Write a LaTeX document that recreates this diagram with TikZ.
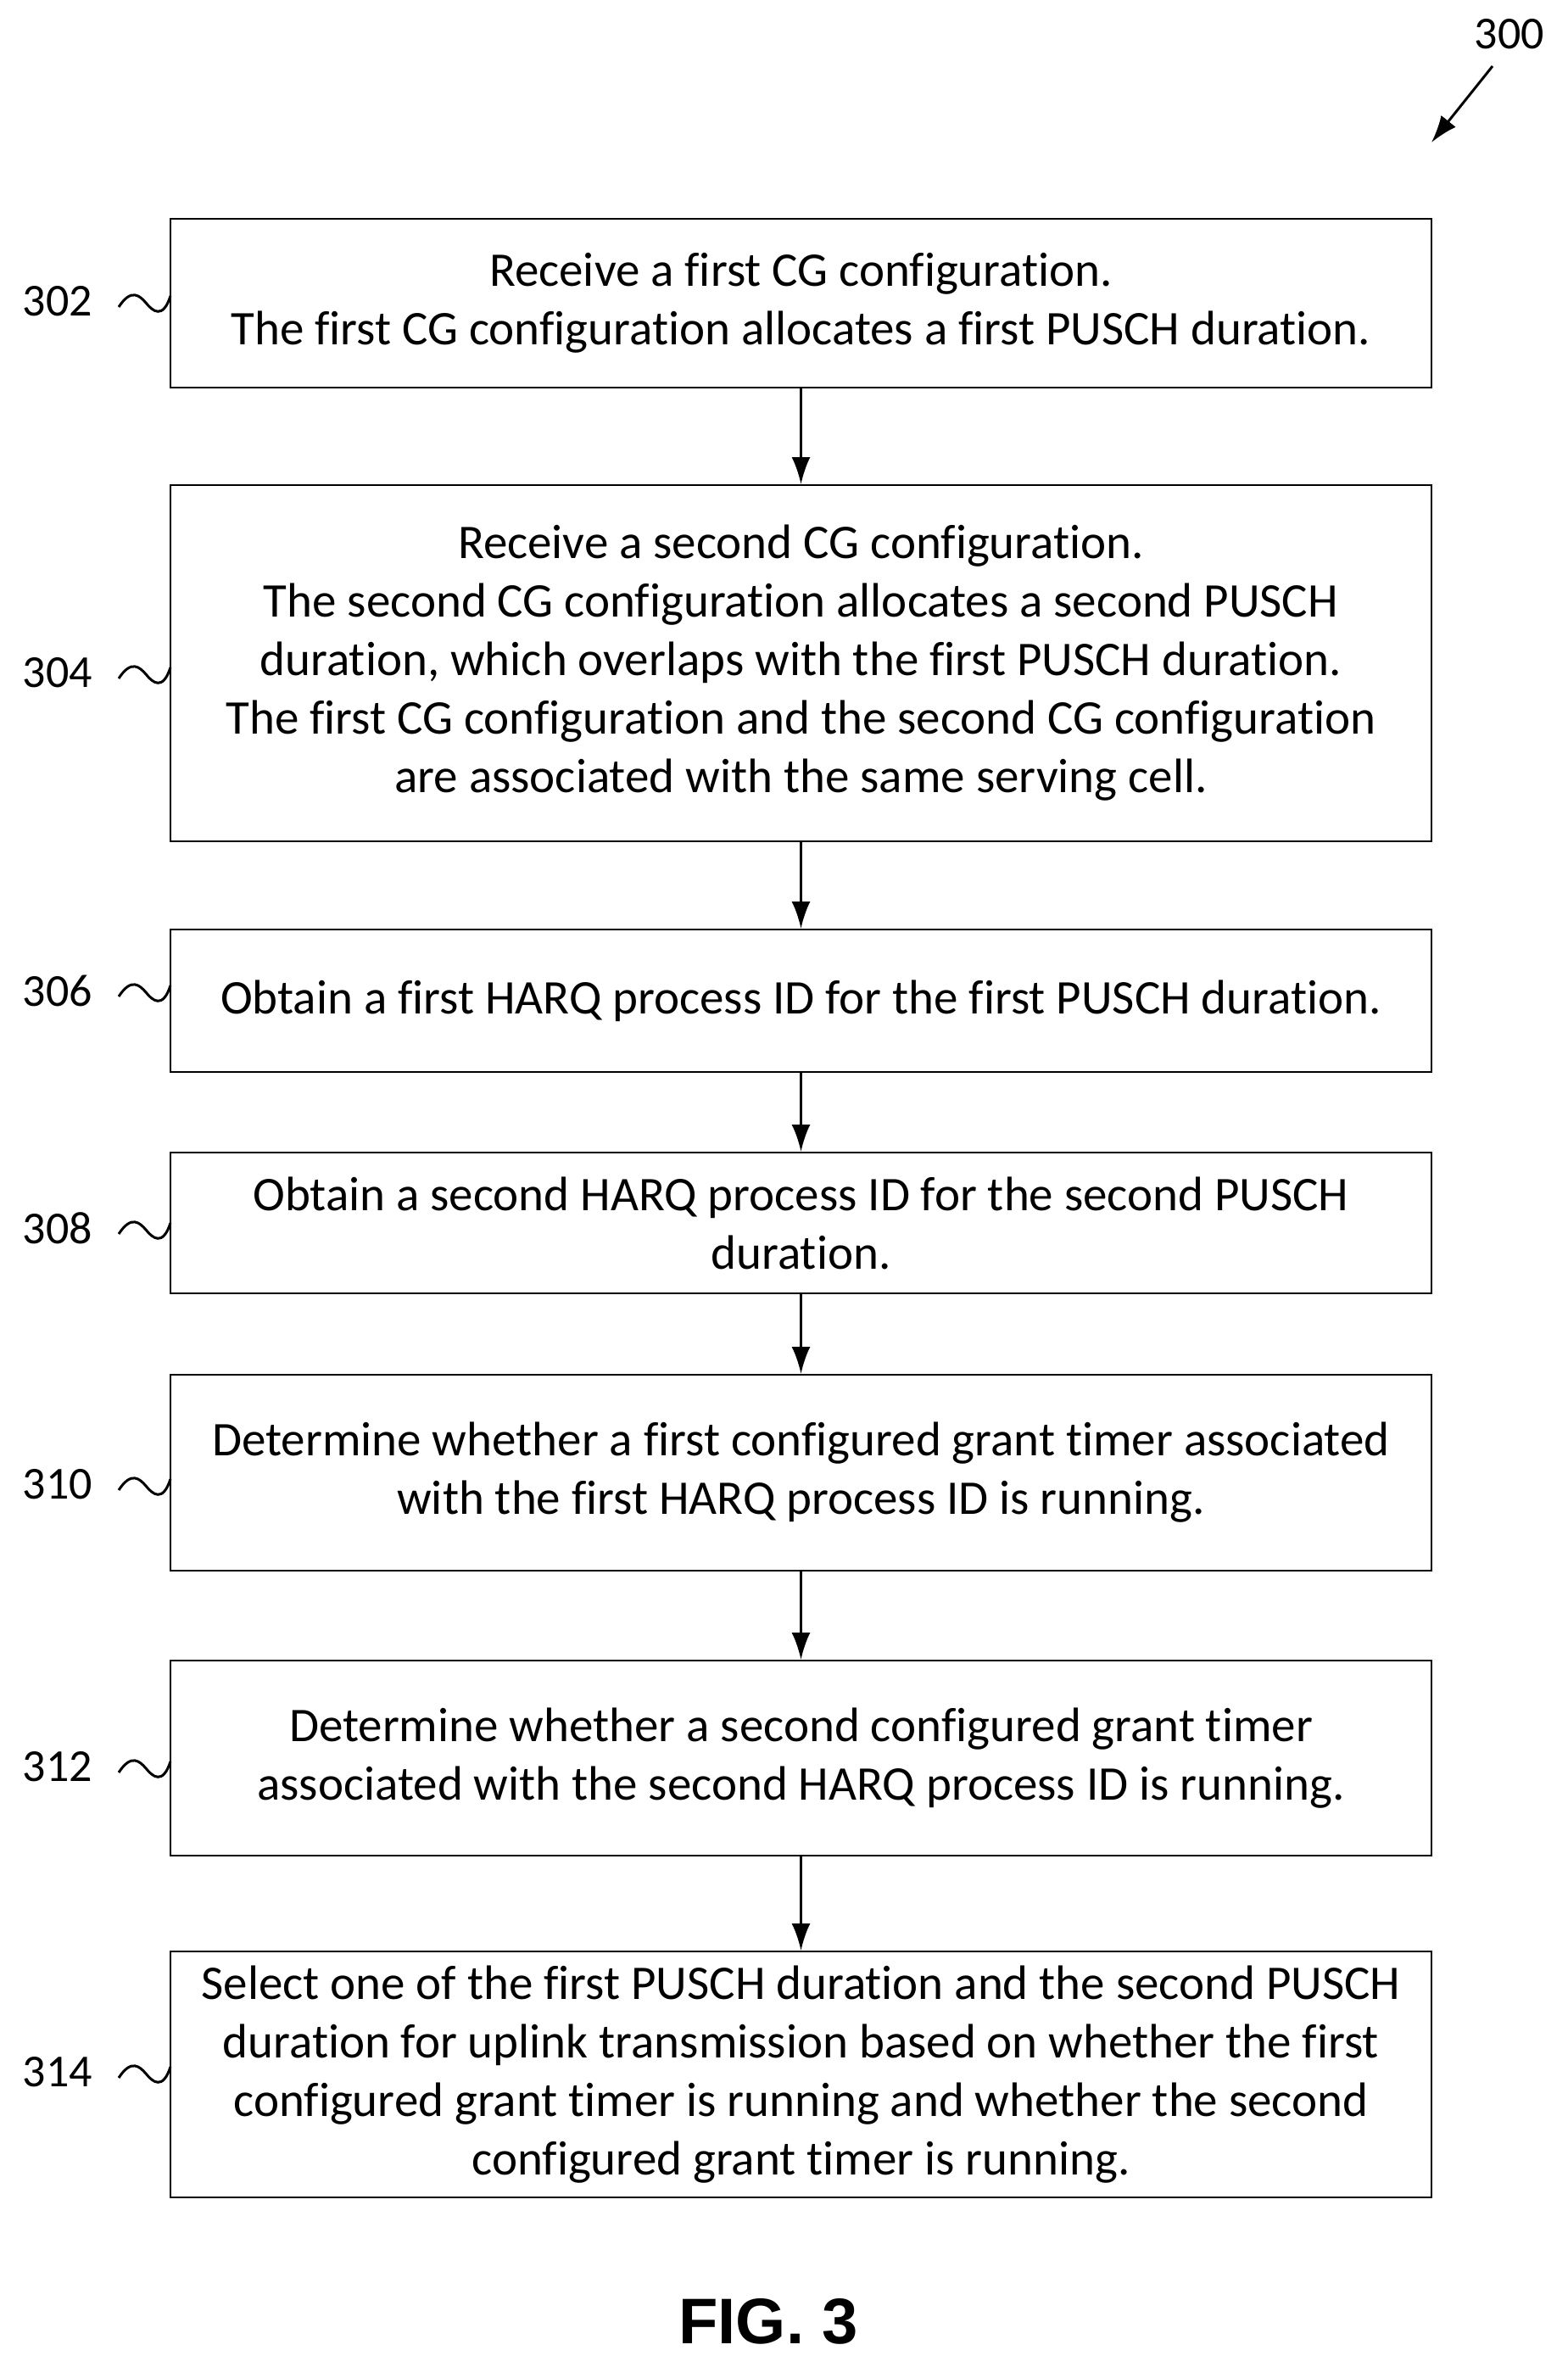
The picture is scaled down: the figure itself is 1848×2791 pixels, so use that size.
\documentclass[tikz,border=0pt]{standalone}
\usepackage{fontspec}
\usetikzlibrary{arrows.meta}
\setmainfont{Carlito}[Ligatures={NoCommon}]
\newfontfamily\figfont{Liberation Sans}
\begin{document}
\begin{tikzpicture}[x=1pt,y=-1pt,
 box/.style={draw,line width=2pt,align=center,font=\fontsize{57}{69}\selectfont,inner sep=0},
 lab/.style={font=\fontsize{54}{60}\selectfont},
 arr/.style={-{Latex[length=32pt,width=22pt]},line width=3pt}]
\useasboundingbox (0,0) rectangle (1848,2791);
\def\bx#1#2#3#4{\node[box,minimum width=1487pt,minimum height=#3-#2 pt] (#1) at (944.5,{(#2+#3)/2}) {#4};}
\bx{b302}{258}{457}{Receive a first CG configuration.\\The first CG configuration allocates a first PUSCH duration.}
\bx{b304}{572}{992}{Receive a second CG configuration.\\The second CG configuration allocates a second PUSCH\\duration, which overlaps with the first PUSCH duration.\\The first CG configuration and the second CG configuration\\are associated with the same serving cell.}
\bx{b306}{1096}{1264}{Obtain a first HARQ process ID for the first PUSCH duration.}
\bx{b308}{1359}{1525}{Obtain a second HARQ process ID for the second PUSCH\\duration.}
\bx{b310}{1621}{1852}{Determine whether a first configured grant timer associated\\with the first HARQ process ID is running.}
\bx{b312}{1958}{2188}{Determine whether a second configured grant timer\\associated with the second HARQ process ID is running.}
\bx{b314}{2301}{2591}{Select one of the first PUSCH duration and the second PUSCH\\duration for uplink transmission based on whether the first\\configured grant timer is running and whether the second\\configured grant timer is running.}
\foreach \a/\b in {b302/b304,b304/b306,b306/b308,b308/b310,b310/b312,b312/b314}
 \draw[arr] (\a.south) -- (\b.north);
\foreach \n/\y in {302/357,304/795,306/1170,308/1450,310/1752,312/2085,314/2445}{
 \node[lab] (l\n) at (68,\y-2) {\n};
 \draw[line width=3pt] (140,\y+5) .. controls (155,\y-18) and (165,\y-8) .. (172,\y) .. controls (180,\y+10) and (192,\y+20) .. (201,\y-8);
}
\node[lab] (l300) at (1780,40) {300};
\coordinate (a1) at (1760,78);
\coordinate (a2) at (1688,168);
\draw[arr] (a1) -- (a2);
\node[font=\figfont\bfseries\fontsize{76}{80}\selectfont] (fig) at (906,2737) {FIG. 3};
\end{tikzpicture}
\end{document}
